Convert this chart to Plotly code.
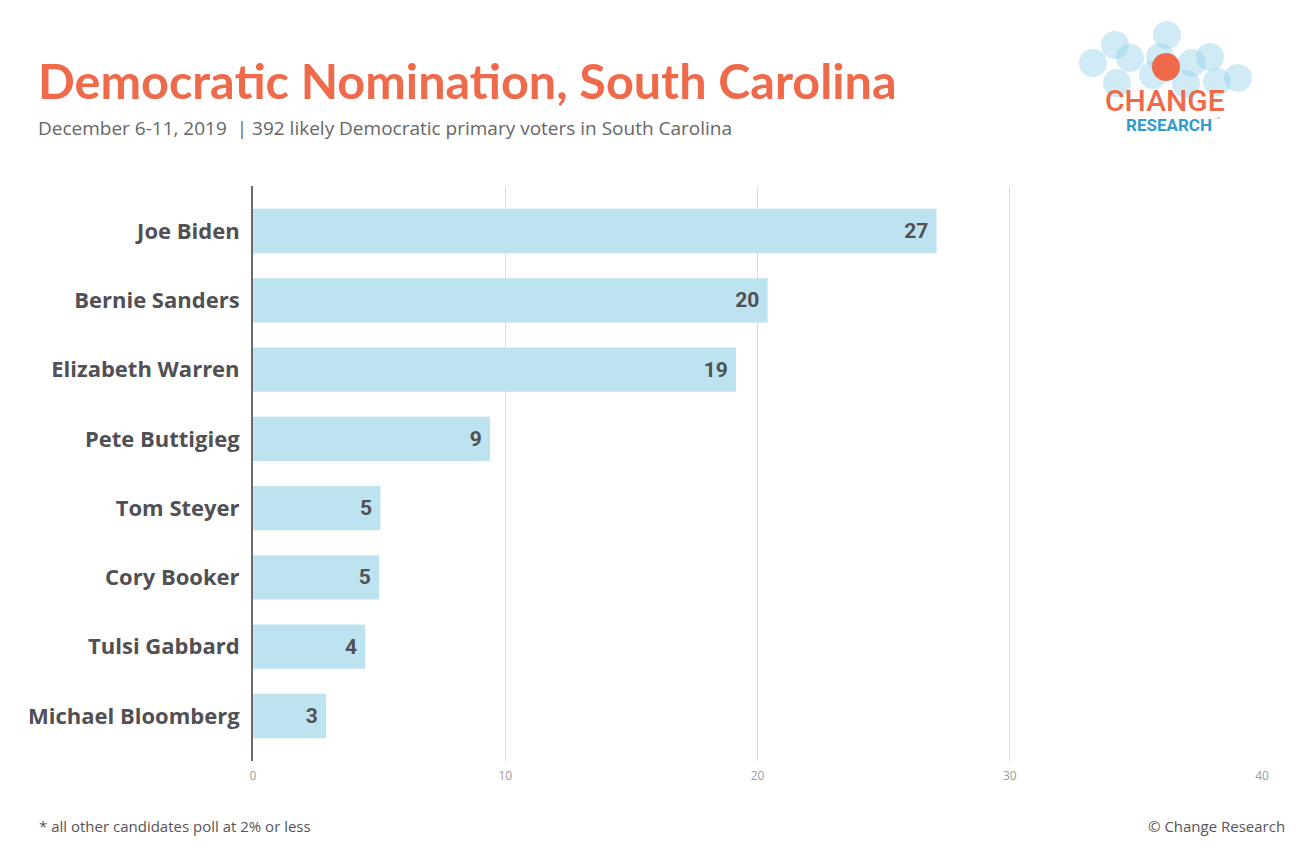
import plotly.graph_objects as go

candidates = ["Joe Biden", "Bernie Sanders", "Elizabeth Warren", "Pete Buttigieg",
              "Tom Steyer", "Cory Booker", "Tulsi Gabbard", "Michael Bloomberg"]
values = [27.1, 20.4, 19.15, 9.4, 5.05, 5.0, 4.45, 2.9]
value_labels = ["27", "20", "19", "9", "5", "5", "4", "3"]
x_ticks = [0, 10, 20, 30, 40]

BAR = "#bde3f0"
DARK = "#505055"
ORANGE = "#ee6a4b"

# page offset (browser body margin) so that coordinates match the reference pixels
OFF = 8
W, H = 1302 - OFF, 854 - OFF
pl, pt = 253 - OFF, 186 - OFF
pw, ph = 1009, 575
pr, pb = W - pl - pw, H - pt - ph

def px(x): return (x - OFF - pl) / pw
def py(y): return (H - pb - (y - OFF)) / ph

fig = go.Figure()
fig.add_trace(go.Bar(
    x=values, y=candidates, orientation="h",
    marker=dict(color=BAR, line=dict(width=0)),
    text=[v + " " for v in value_labels],
    textposition="inside", insidetextanchor="end",
    textfont=dict(family="Roboto", size=21, color=DARK, weight="bold"),
    hoverinfo="skip",
))

fig.update_layout(
    width=W, height=H,
    paper_bgcolor="white", plot_bgcolor="white",
    margin=dict(l=pl, r=pr, t=pt, b=pb),
    bargap=0.36,
    showlegend=False,
    font=dict(family="Open Sans"),
    xaxis=dict(range=[0, 40], tickvals=x_ticks, showgrid=True, gridcolor="#dcdcdc",
               gridwidth=1, zeroline=False, showline=False, ticklabelstandoff=6,
               tickfont=dict(family="Open Sans", size=12, color="#9a9a9a"), ticks=""),
    yaxis=dict(type="category", categoryorder="array", categoryarray=candidates,
               range=[7.65, -0.65], showgrid=False, zeroline=False,
               showline=True, linecolor="#6a6a6a", linewidth=2, ticks="",
               ticklabelstandoff=7,
               tickfont=dict(family="Open Sans", size=22, color=DARK, weight="bold")),
)

texts = [
    ("Democratic Nomination, South Carolina", 36, 80, "left",
     dict(family="Lato", size=48.5, color=ORANGE, weight="bold")),
    ("December 6-11, 2019  | 392 likely Democratic primary voters in South Carolina", 36, 128, "left",
     dict(family="Open Sans", size=19, color="#666666")),
    ("* all other candidates poll at 2% or less", 37, 826, "left",
     dict(family="Open Sans", size=15, color="#555555")),
    ("© Change Research", 1287, 826, "right",
     dict(family="Open Sans", size=15, color="#555555")),
]
for t, x, y, anchor, f in texts:
    fig.add_annotation(text=t, xref="paper", yref="paper", x=px(x), y=py(y),
                       xanchor=anchor, yanchor="middle", showarrow=False, font=f)

# Logo: circles
circles = [(1093, 63), (1115, 45), (1130, 58), (1167, 35), (1160, 57), (1192, 63),
           (1210, 57), (1238, 78), (1117, 83), (1153, 75), (1217, 82), (1186, 84)]
shapes = []
for cx, cy in circles:
    r = 14
    shapes.append(dict(type="circle", xref="paper", yref="paper",
                       x0=px(cx - r), x1=px(cx + r), y0=py(cy + r), y1=py(cy - r),
                       fillcolor="rgba(150,210,235,0.45)", line=dict(width=0), layer="above"))
r = 14
shapes.append(dict(type="circle", xref="paper", yref="paper",
                   x0=px(1166 - r), x1=px(1166 + r), y0=py(67 + r), y1=py(67 - r),
                   fillcolor="#ef6a4a", line=dict(width=0), layer="above"))
fig.update_layout(shapes=shapes)
fig.add_annotation(text="CHANGE", xref="paper", yref="paper", x=px(1165), y=py(100),
                   xanchor="center", yanchor="middle", showarrow=False, height=30,
                   borderpad=0,
                   font=dict(family="Roboto", size=30, color=ORANGE, weight=500))
fig.add_annotation(text="RESEARCH", xref="paper", yref="paper", x=px(1169), y=py(125),
                   xanchor="center", yanchor="middle", showarrow=False, height=18,
                   borderpad=0,
                   font=dict(family="Roboto", size=17, color="#2f9bd2", weight="bold"))
fig.add_annotation(text="™", xref="paper", yref="paper", x=px(1215), y=py(120),
                   xanchor="left", yanchor="middle", showarrow=False, borderpad=0,
                   height=7,
                   font=dict(family="Roboto", size=7, color="#2f9bd2"))

fig.write_html("out.html")
